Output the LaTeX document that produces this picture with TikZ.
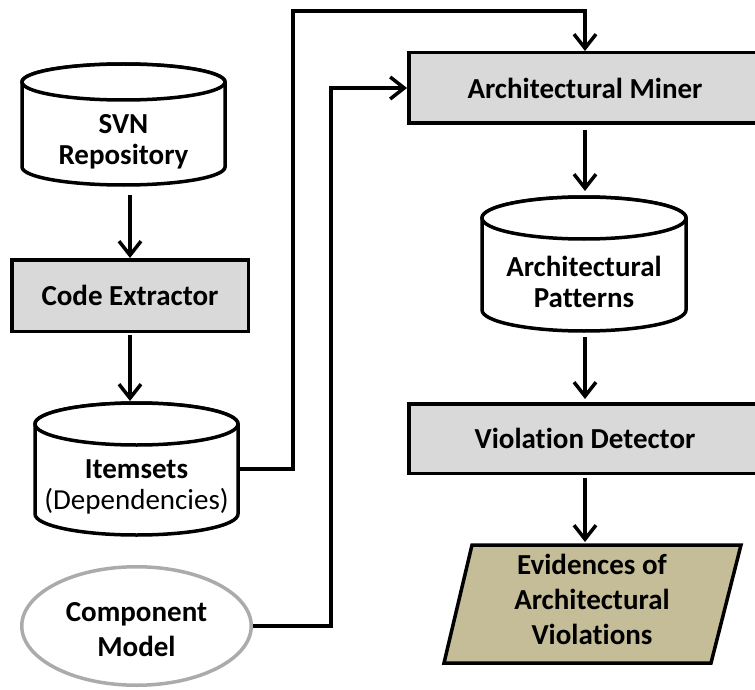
\documentclass[tikz,border=0pt]{standalone}
\usepackage{fontspec}
\setmainfont{Carlito}[Ligatures=NoCommon]
\usetikzlibrary{arrows.meta,shapes.geometric}

\definecolor{boxgray}{HTML}{D9D9D9}
\definecolor{evtan}{HTML}{C4BD97}
\definecolor{rimgray}{HTML}{ABABAB}

\newcommand\flowfont{\fontsize{29}{35}\selectfont\bfseries}
\newcommand\dbfont{\fontsize{29}{31}\selectfont\bfseries}

% database cylinder: centre x, x radius, top, bottom, y radius of the end faces
\newcommand\dbcyl[5]{%
  \draw[cylline] ({#1-#2},{-(#3+#5)}) -- ({#1-#2},{-(#4-#5)})
    arc[start angle=180,end angle=360,x radius=#2,y radius=#5]
    -- ({#1+#2},{-(#3+#5)})
    arc[start angle=0,end angle=180,x radius=#2,y radius=#5] -- cycle;
  \draw[cylline] (#1,{-(#3+#5)}) ellipse[x radius=#2,y radius=#5];
}

\begin{document}
\begin{tikzpicture}[x=1pt,y=1pt,line join=miter,
  wire/.style={line width=3.5pt},
  flow/.style={wire,-{Straight Barb[length=14pt,width=22pt]}},
  cylline/.style={line width=3.5pt,fill=white},
  procbox/.style={draw,line width=3.5pt,fill=boxgray,inner sep=0pt,font=\flowfont},
  shell/.style={inner sep=0pt,outer sep=0pt},
  dblabel/.style={align=center,font=\dbfont,inner sep=0pt},
  outlabel/.style={align=center,font=\flowfont,inner sep=0pt}]

\path[use as bounding box] (0,0) rectangle (755,-690);
\clip (0,0) rectangle (755,-690);

% data stores
\dbcyl{123.5}{101.5}{64}{185}{18}
\node[shell,minimum width=207pt,minimum height=125pt] (svn) at (123.5,-124.5) {};
\node[dblabel] (svnlbl) at (123.5,-142) {SVN\\Repository};

\dbcyl{136.5}{101.5}{403}{535}{21}
\node[shell,minimum width=207pt,minimum height=136pt] (its) at (136.5,-469) {};
\node[dblabel] (itslbl) at (136.5,-487) {Itemsets\\{\mdseries(Dependencies)}};

\dbcyl{584}{102}{197}{331}{21}
\node[shell,minimum width=208pt,minimum height=138pt] (pat) at (584,-264) {};
\node[dblabel] (patlbl) at (584,-281.5) {Architectural\\Patterns};

% processing steps
\node[procbox,minimum width=236.5pt,minimum height=71.5pt] (ce) at (130,-295.5) {Code Extractor};
\node[procbox,minimum width=352.5pt,minimum height=70.5pt] (am) at (585,-88) {Architectural Miner};
\node[procbox,minimum width=352.5pt,minimum height=69.5pt] (vd) at (585,-438.5) {Violation Detector};

% external model
\node[ellipse,draw=rimgray,line width=3.5pt,fill=white,inner sep=0pt,
      minimum width=229.5pt,minimum height=118.5pt] (cm) at (136.5,-626) {};
\node[outlabel] (cmlbl) at (136.5,-630) {Component\\Model};

% output document
\draw[wire,fill=evtan] (444,-663) -- (472,-545) -- (741,-545) -- (711,-663) -- cycle;
\node[shell,minimum width=297pt,minimum height=122pt] (ev) at (592.5,-604) {};
\node[outlabel] (evlbl) at (592,-599) {Evidences of\\Architectural\\Violations};

% connectors
\coordinate (upper) at (293,-11);
\coordinate (lower) at (331,-88);

\draw[flow] ([yshift=-8pt]ce.north |- svn.south) -- (ce.north);
\draw[flow] ([yshift=-2pt]ce.south) -- (ce.south |- its.north);
\draw[flow] (its.east) -| (upper) -| (am.north);
\draw[flow] (cm.east) -| (lower) -- (am.west);
\draw[flow,shorten >=4pt] ([yshift=-5pt]am.south) -- (am.south |- pat.north);
\draw[flow,shorten >=3pt] ([yshift=-4pt]am.south |- pat.south) -- (vd.north);
\draw[flow,shorten >=1pt] ([yshift=-3pt]vd.south) -- (vd.south |- ev.north);
\end{tikzpicture}
\end{document}
